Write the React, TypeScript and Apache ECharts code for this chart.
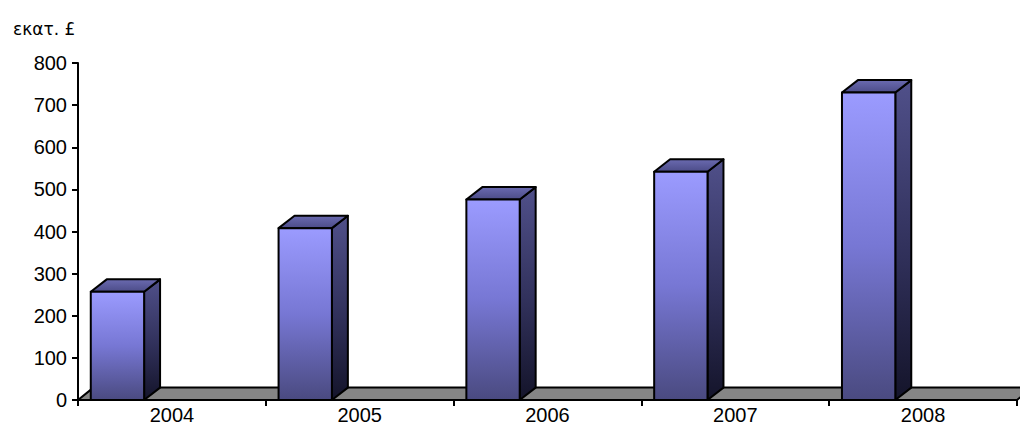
import React, { useEffect, useRef } from "react";
import * as echarts from "echarts";

const categories = ["2004", "2005", "2006", "2007", "2008"];
const values = [257, 408, 476, 542, 730];
const yTicks = { min: 0, max: 800, interval: 100 };
const unitLabel = "εκατ. £";

export default function App() {
  const ref = useRef<HTMLDivElement>(null);
  useEffect(() => {
    if (!ref.current) return;
    const chart = echarts.init(ref.current, null, { renderer: "svg" });
    const font = "'Liberation Sans', Arial, sans-serif";

    const frontGrad = new echarts.graphic.LinearGradient(0, 0, 0, 1, [
      { offset: 0, color: "#9b9bff" },
      { offset: 0.5, color: "#7777d4" },
      { offset: 1, color: "#4a4a80" },
    ]);
    const sideGrad = new echarts.graphic.LinearGradient(0, 0, 0, 1, [
      { offset: 0, color: "#50508a" },
      { offset: 0.55, color: "#30305a" },
      { offset: 1, color: "#14142a" },
    ]);
    const topGrad = new echarts.graphic.LinearGradient(0, 0, 0, 1, [
      { offset: 0, color: "#6a6ab0" },
      { offset: 1, color: "#4c4c88" },
    ]);

    const option: any = {
      animation: false,
      title: {
        text: unitLabel,
        left: 8,
        top: 15,
        textStyle: { fontFamily: "'DejaVu Sans', Verdana, sans-serif", fontSize: 17, fontWeight: "normal", color: "#000" },
      },
      grid: { left: 78, right: 3, top: 63, bottom: 28, containLabel: false },
      xAxis: {
        type: "category",
        data: categories,
        boundaryGap: true,
        axisLine: { show: true, lineStyle: { color: "#000", width: 2 } },
        axisTick: { show: true, length: 6, lineStyle: { color: "#000", width: 2 } },
        axisLabel: { fontFamily: font, fontSize: 20, color: "#000", margin: 5 },
        splitLine: { show: false },
      },
      yAxis: {
        type: "value",
        min: yTicks.min,
        max: yTicks.max,
        interval: yTicks.interval,
        axisLine: { show: true, lineStyle: { color: "#000", width: 2 } },
        axisTick: { show: true, length: 6, lineStyle: { color: "#000", width: 2 } },
        axisLabel: { fontFamily: font, fontSize: 20, color: "#000", margin: 11 },
        splitLine: { show: false },
      },
      series: [
        {
          type: "custom",
          z: 1,
          data: [[0, 0]],
          renderItem: (params: any, api: any) => {
            const band = api.size([1, 0])[0];
            const first = api.coord([0, 0]);
            const last = api.coord([categories.length - 1, 0]);
            const xs = first[0] - band / 2;
            const xe = last[0] + band / 2;
            const y0 = first[1];
            const dx = band * 0.082;
            const dy = band * 0.066;
            return {
              type: "polygon",
              shape: {
                points: [
                  [xs, y0],
                  [xs + dx, y0 - dy],
                  [xe + dx, y0 - dy],
                  [xe, y0],
                ],
              },
              style: { fill: "#858585", stroke: "#000", lineWidth: 2 },
            };
          },
        },
        {
          type: "custom",
          z: 3,
          data: values.map((v, i) => [i, v]),
          renderItem: (params: any, api: any) => {
            const i = api.value(0);
            const v = api.value(1);
            const base = api.coord([i, 0]);
            const top = api.coord([i, v]);
            const band = api.size([1, 0])[0];
            const x0 = base[0] - band / 2 + band * 0.068;
            const w = band * 0.284;
            const dx = band * 0.085;
            const dy = band * 0.066;
            const yb = base[1];
            const yt = top[1];
            const stroke = { stroke: "#000", lineWidth: 2, lineJoin: "round" };
            return {
              type: "group",
              children: [
                {
                  type: "polygon",
                  shape: {
                    points: [
                      [x0 + w, yt],
                      [x0 + w + dx, yt - dy],
                      [x0 + w + dx, yb - dy],
                      [x0 + w, yb],
                    ],
                  },
                  style: { fill: sideGrad, ...stroke },
                },
                {
                  type: "polygon",
                  shape: {
                    points: [
                      [x0, yt],
                      [x0 + dx, yt - dy],
                      [x0 + w + dx, yt - dy],
                      [x0 + w, yt],
                    ],
                  },
                  style: { fill: topGrad, ...stroke },
                },
                {
                  type: "rect",
                  shape: { x: x0, y: yt, width: w, height: yb - yt },
                  style: { fill: frontGrad, ...stroke },
                },
              ],
            };
          },
        },
      ],
    };
    chart.setOption(option);
    return () => chart.dispose();
  }, []);
  return (
    <div
      ref={ref}
      style={{ position: "fixed", left: 0, top: 0, width: 1020, height: 428, background: "#fff" }}
    />
  );
}
